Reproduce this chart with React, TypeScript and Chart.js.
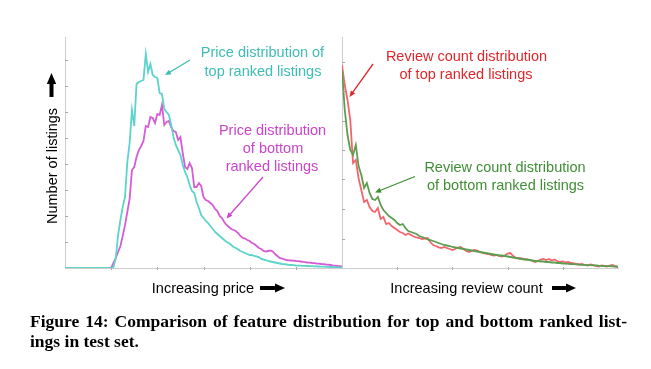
import React, { useEffect, useRef } from 'react';
import { Chart, registerables } from 'chart.js';

Chart.register(...registerables);

// ---------- DATA ----------
// Price histogram (bins 0..120), arbitrary count units
const priceTop = [
  0, 0, 0, 0, 0, 0, 0, 0, 0, 0,
  0, 0, 0, 0, 0, 0, 0, 0, 0, 0,
  0, 1, 10, 33, 48, 61, 71, 106, 125, 158,
  142, 184, 186, 187, 188, 214, 196, 204, 193, 191,
  190, 175, 174, 159, 156, 153, 143, 131, 123, 118,
  113, 103, 96, 91, 83, 77, 75, 66, 60, 53,
  50, 47, 45, 42, 39, 36, 34, 32, 30, 28,
  26, 25, 23, 21, 20, 18.5, 17, 16, 15, 14,
  13, 13, 12, 11.5, 11, 9, 8.5, 8, 7, 6.5,
  6, 5.5, 5, 4.5, 4, 3.8, 3.5, 3.2, 3, 2.8,
  2.5, 2.4, 2.3, 2.2, 2.1, 2, 1.9, 1.8, 1.7, 1.6,
  1.5, 1.4, 1.3, 1.2, 1.1, 1, 0.9, 0.8, 0.7, 0.6,
  0.5,
];
const priceBottom = [
  0, 0, 0, 0, 0, 0, 0, 0, 0, 0,
  0, 0, 0, 0, 0, 0, 0, 0, 0, 0,
  0, 5, 10, 16, 22, 32, 43, 56, 69, 98,
  101, 111, 118, 122, 127, 142, 141, 151, 150, 145,
  154, 153, 163, 143, 146, 147, 141, 137, 136, 128,
  131, 115, 101, 99, 105, 100, 81, 81, 85, 82,
  71, 68, 67, 65, 63, 59, 57, 52, 50, 46,
  43, 41, 39, 38, 37, 35, 32, 30, 29.5, 28,
  27, 25, 24, 22, 20, 19, 17, 16.5, 17, 17.5,
  16.5, 14, 12, 10, 9.5, 8.5, 8, 7.7, 7.5, 7.3,
  7, 6.8, 6.5, 6.1, 5.8, 5.5, 5.3, 5, 4.8, 4.5,
  4.3, 4, 3.8, 3.5, 3.3, 3, 2.6, 2.3, 2, 1.8,
  1.5,
];
// Review-count histogram (bins 0..100)
const reviewTop = [
  203, 183, 168, 148, 105, 108, 90, 78, 66, 68,
  61, 57, 56, 60, 49, 51, 44, 45, 42, 40,
  38, 36, 35, 33, 34.5, 33, 31.5, 30.5, 30, 29,
  29.5, 30, 26, 23, 22, 20.5, 20, 21, 20, 19,
  18, 19, 20.5, 21, 19, 17, 16, 17, 18, 17.5,
  16, 15, 14.5, 14, 13, 12.5, 13, 12, 11.5, 12.5,
  14.5, 15, 12, 10, 10, 9.5, 9, 8.5, 8, 7,
  6, 7, 8.5, 9, 8, 9, 7.5, 8.5, 7, 6,
  6.5, 5.5, 6, 5, 4.5, 4, 3.5, 4, 3, 2.5,
  3.5, 3, 2, 1.5, 2.5, 2, 1.5, 2.5, 3, 1.5,
  1,
];
const reviewBottom = [
  198, 158, 133, 118, 113, 123, 102, 93, 80, 85,
  75, 69, 68, 71, 63, 58, 55, 52, 50, 48,
  45, 43, 44, 40, 37, 36, 35, 34, 32, 31,
  30, 28.5, 28, 27, 26, 25, 24, 23, 22.5, 22,
  21, 20.5, 20, 19.5, 19, 18.5, 18, 17.5, 17, 16.5,
  16, 15.5, 15, 14.5, 14, 13.5, 13, 12.5, 12.5, 12,
  11.5, 11, 10.5, 10, 9.5, 9, 8.5, 8.5, 8, 7.5,
  7, 7, 6.5, 6.5, 6, 6, 5.5, 5.5, 5, 5,
  4.5, 4.3, 4.1, 4, 3.8, 3.6, 3.4, 3.2, 3, 2.9,
  2.8, 2.6, 2.5, 2.3, 2.2, 2, 1.9, 1.8, 1.6, 1.5,
  1.3,
];

const priceAxis = { max: 120, step: 20 };
const priceCount = { max: 231, step: 26 };
const reviewAxis = { max: 100, step: 20 };
const reviewCount = { max: 231, step: 29.5 };

// ---------- STYLE ----------
const W = 651;
const H = 369;
const CYAN = '#5cd4cb';
const CYAN_TXT = '#3dbdb4';
const MAG = '#d65cd6';
const MAG_TXT = '#cc44cc';
const RED = '#f4646d';
const RED_TXT = '#e0262b';
const GREEN = '#5b9e4f';
const GREEN_TXT = '#3f8f35';
const AXIS = '#cdcdcd';
const SANS = '"Liberation Sans", Arial, sans-serif';

const tickMarks = {
  id: 'tickMarks',
  afterDraw(chart: any) {
    const { ctx, chartArea: a } = chart;
    const xs = chart.scales.x;
    const ys = chart.scales.y;
    ctx.save();
    ctx.strokeStyle = '#a8a8a8';
    ctx.lineWidth = 1;
    ys.ticks.forEach((t: any) => {
      const py = Math.round(ys.getPixelForValue(t.value)) + 0.5;
      ctx.beginPath();
      ctx.moveTo(a.left, py);
      ctx.lineTo(a.left + 3, py);
      ctx.stroke();
    });
    xs.ticks.forEach((t: any) => {
      const px = Math.round(xs.getPixelForValue(t.value)) + 0.5;
      ctx.beginPath();
      ctx.moveTo(px, a.bottom - 1);
      ctx.lineTo(px, a.bottom + 2);
      ctx.stroke();
    });
    ctx.restore();
  },
};

function series(vals: number[], color: string) {
  return {
    data: vals.map((v, i) => ({ x: i, y: v })),
    borderColor: color,
    backgroundColor: color,
    borderWidth: 1.8,
    pointRadius: 0,
    tension: 0,
    fill: false,
  };
}

function makeConfig(
  datasets: any[],
  xr: { max: number; step: number },
  yr: { max: number; step: number },
  padding: any,
) {
  return {
    type: 'line',
    data: { datasets },
    options: {
      animation: false,
      responsive: false,
      devicePixelRatio: 1,
      layout: { padding },
      plugins: { legend: { display: false }, tooltip: { enabled: false } },
      scales: {
        x: {
          type: 'linear',
          min: 0,
          max: xr.max,
          ticks: { display: false, stepSize: xr.step },
          grid: { display: false, drawTicks: false, tickLength: 0 },
          border: { display: true, color: AXIS, width: 1 },
          afterBuildTicks: (s: any) => {
            s.ticks = s.ticks.filter((t: any) => t.value > 0 && t.value < xr.max - 0.01);
          },
        },
        y: {
          type: 'linear',
          min: 0,
          max: yr.max,
          ticks: { display: false, stepSize: yr.step },
          grid: { display: false, drawTicks: false, tickLength: 0 },
          border: { display: true, color: AXIS, width: 1 },
          afterBuildTicks: (s: any) => {
            s.ticks = s.ticks.filter((t: any) => t.value > 0 && t.value < yr.max - 1);
          },
        },
      },
    },
    plugins: [tickMarks],
  } as any;
}

function Txt({ x, y, color, children, size = 14.5 }: any) {
  return (
    <div
      style={{
        position: 'absolute',
        left: x,
        top: y,
        transform: 'translate(-50%, -50%)',
        whiteSpace: 'nowrap',
        fontFamily: SANS,
        fontSize: size,
        lineHeight: 1,
        color,
      }}
    >
      {children}
    </div>
  );
}

function arrowHead(x1: number, y1: number, x2: number, y2: number, len: number, half: number) {
  const dx = x2 - x1;
  const dy = y2 - y1;
  const d = Math.hypot(dx, dy);
  const ux = dx / d;
  const uy = dy / d;
  const bx = x2 - ux * len;
  const by = y2 - uy * len;
  return `${x2},${y2} ${bx - uy * half},${by + ux * half} ${bx + uy * half},${by - ux * half}`;
}

function Pointer({ x1, y1, x2, y2, color }: any) {
  const dx = x2 - x1;
  const dy = y2 - y1;
  const d = Math.hypot(dx, dy);
  const ex = x2 - (dx / d) * 4;
  const ey = y2 - (dy / d) * 4;
  return (
    <g>
      <line x1={x1} y1={y1} x2={ex} y2={ey} stroke={color} strokeWidth={1.3} />
      <polygon points={arrowHead(x1, y1, x2, y2, 6, 2.6)} fill={color} />
    </g>
  );
}

export default function App() {
  const leftRef = useRef<HTMLCanvasElement>(null);
  const rightRef = useRef<HTMLCanvasElement>(null);

  useEffect(() => {
    const left = new Chart(
      leftRef.current as HTMLCanvasElement,
      makeConfig(
        [series(priceTop, CYAN), series(priceBottom, MAG)],
        priceAxis,
        priceCount,
        { left: 65, top: 37, right: W - 342, bottom: H - 268 },
      ),
    );
    const right = new Chart(
      rightRef.current as HTMLCanvasElement,
      makeConfig(
        [series(reviewBottom, GREEN), series(reviewTop, RED)],
        reviewAxis,
        reviewCount,
        { left: 342, top: 37, right: W - 618, bottom: H - 268 },
      ),
    );
    return () => {
      left.destroy();
      right.destroy();
    };
  }, []);

  const canvasStyle: React.CSSProperties = { position: 'absolute', left: 0, top: 0, display: 'block' };

  return (
    <div style={{ position: 'absolute', left: 0, top: 0, width: W, height: H, background: '#fff', overflow: 'hidden' }}>
      <canvas ref={leftRef} width={W} height={H} style={canvasStyle} />
      <canvas ref={rightRef} width={W} height={H} style={canvasStyle} />
      <svg width={W} height={H} style={{ position: 'absolute', left: 0, top: 0 }}>
        <Pointer x1={190} y1={60} x2={165} y2={75} color={CYAN_TXT} />
        <Pointer x1={263} y1={177} x2={226.5} y2={218.5} color={MAG_TXT} />
        <Pointer x1={373} y1={64} x2={349.5} y2={97} color={RED_TXT} />
        <Pointer x1={415} y1={176.5} x2={375} y2={192.5} color={GREEN_TXT} />
        {/* y-axis title arrow */}
        <rect x={49.5} y={82} width={4} height={15} fill="#000" />
        <polygon points="46.8,84 56.2,84 51.5,73" fill="#000" />
        {/* x-axis title arrows */}
        <rect x={260} y={286} width={16} height={4} fill="#000" />
        <polygon points="275,283.5 275,292.5 285,288" fill="#000" />
        <rect x={552} y={286} width={15} height={4} fill="#000" />
        <polygon points="566,283.5 566,292.5 576,288" fill="#000" />
      </svg>

      <Txt x={262.5} y={52} color={CYAN_TXT}>Price distribution of</Txt>
      <Txt x={263} y={70.5} color={CYAN_TXT}>top ranked listings</Txt>
      <Txt x={272.5} y={130} color={MAG_TXT}>Price distribution</Txt>
      <Txt x={273} y={148} color={MAG_TXT}>of bottom</Txt>
      <Txt x={272} y={166} color={MAG_TXT}>ranked listings</Txt>
      <Txt x={466.5} y={56} color={RED_TXT}>Review count distribution</Txt>
      <Txt x={466} y={73.5} color={RED_TXT}>of top ranked listings</Txt>
      <Txt x={505} y={167} color={GREEN_TXT}>Review count distribution</Txt>
      <Txt x={505.5} y={185} color={GREEN_TXT}>of bottom ranked listings</Txt>

      <Txt x={203} y={288} color="#000">Increasing price</Txt>
      <Txt x={466.5} y={288} color="#000">Increasing review count</Txt>
      <div
        style={{
          position: 'absolute',
          left: 51.5,
          top: 166,
          transform: 'translate(-50%, -50%) rotate(-90deg)',
          whiteSpace: 'nowrap',
          fontFamily: SANS,
          fontSize: 14.5,
          lineHeight: 1,
          color: '#000',
        }}
      >
        Number of listings
      </div>

      <div
        style={{
          position: 'absolute',
          left: 30,
          top: 311,
          width: 597,
          fontFamily: '"Liberation Serif", "Times New Roman", serif',
          fontWeight: 'bold',
          fontSize: 17.5,
          lineHeight: '20px',
          color: '#000',
        }}
      >
        <div style={{ textAlign: 'justify', textAlignLast: 'justify' }}>
          Figure 14: Comparison of feature distribution for top and bottom ranked list-
        </div>
        <div>ings in test set.</div>
      </div>
    </div>
  );
}
